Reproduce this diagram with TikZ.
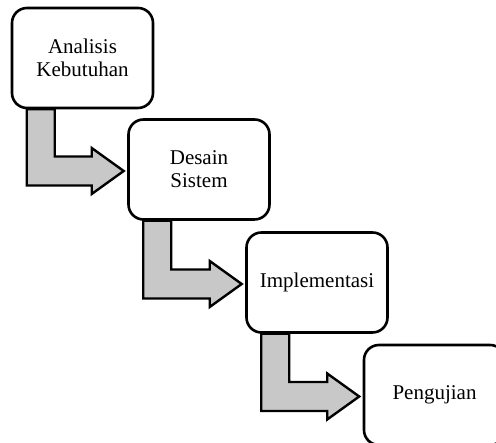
\documentclass[tikz,border=0pt]{standalone}
\usepackage{fontspec}
\setmainfont{Liberation Serif}
\usetikzlibrary{calc,backgrounds}
\definecolor{arrowgray}{RGB}{200,200,200}
\begin{document}
\begin{tikzpicture}[x=1pt,y=1pt,
  box/.style={draw, line width=2.6pt, rounded corners=15pt, fill=white,
    minimum width=141pt, minimum height=100pt, inner sep=0pt, align=center,
    font=\fontsize{21}{23}\selectfont},
  flow/.style={draw, line width=2.4pt, fill=arrowgray, line join=miter}]
\useasboundingbox (0,0) rectangle (496,443);
\node[box] (a) at (82.5,385) {Analisis\\Kebutuhan};
\node[box] (b) at (199,273.5) {Desain\\Sistem};
\node[box] (c) at (317,160.5) {Implementasi};
\node[box] (d) at (434.5,48) {Pengujian};
\begin{scope}[on background layer]
\foreach \s/\t in {a/b,b/c,c/d}{
  \path (\s.south west) ++(16,0) coordinate (l);
  \path (\t.west) ++(-3.5,-1.5) coordinate (tip);
  \draw[flow] let \p1=(l), \p2=(tip) in
    (\x1,\y1) -- (\x1+28pt,\y1) -- (\x1+28pt,\y2+14.5pt) -- (\x2-32pt,\y2+14.5pt)
    -- (\x2-32pt,\y2+23pt) -- (\x2,\y2) -- (\x2-32pt,\y2-23pt) -- (\x2-32pt,\y2-14.5pt)
    -- (\x1,\y2-14.5pt) -- cycle;
}
\end{scope}
\end{tikzpicture}
\end{document}
